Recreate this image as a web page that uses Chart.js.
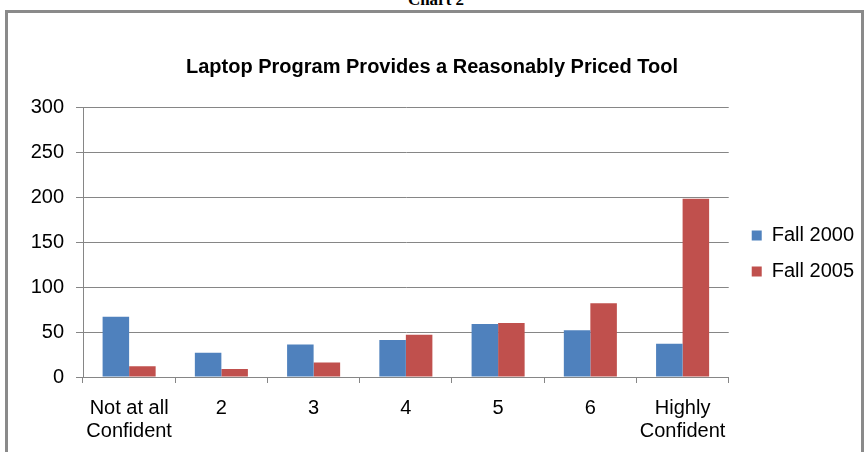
<!DOCTYPE html>
<html>
<head>
<meta charset="utf-8">
<script src="https://cdn.jsdelivr.net/npm/chart.js@4"></script>
<style>
	body { margin: 0; background: #fff; width: 866px; height: 452px; overflow: hidden; position: relative; }
	#caption { position: absolute; left: 0; width: 872px; top: -9px; text-align: center;
		font: bold 17px "Liberation Serif", serif; line-height: 17px; color: #000; }
	#frame { position: absolute; left: 5px; top: 10px; width: 853px; height: 460px;
		border: 3px solid #8a8a8a; }
	#chart { position: absolute; left: 0; top: 0; }
</style>
</head>
<body>
<div id="caption">Chart 2</div>
<div id="frame"></div>
<canvas id="chart" width="866" height="452"></canvas>
<script>
const categories = [['Not at all', 'Confident'], '2', '3', '4', '5', '6', ['Highly', 'Confident']];
const fall2000 = [67, 27, 36, 41, 59, 52, 37];
const fall2005 = [12, 9, 16, 47, 60, 82, 198];
const yTicks = [0, 50, 100, 150, 200, 250, 300];

const gridColor = '#868686';
const font = 'Liberation Sans, Arial, sans-serif';

new Chart(document.querySelector('#chart'), {
	type: 'bar',
	data: {
		labels: categories,
		datasets: [{
			label: 'Fall 2000',
			data: fall2000,
			backgroundColor: '#4F81BD',
		}, {
			label: 'Fall 2005',
			data: fall2005,
			backgroundColor: '#C0504D',
		}]
	},
	options: {
		responsive: false,
		animation: false,
		devicePixelRatio: 1,
		categoryPercentage: 0.575,
		barPercentage: 1,
		layout: {
			padding: { top: 55, left: 0, right: 2, bottom: 0 },
		},
		plugins: {
			title: {
				display: true,
				text: 'Laptop Program Provides a Reasonably Priced Tool',
				color: '#000',
				font: { family: font, size: 20, weight: 'bold', lineHeight: 1.2 },
				padding: { top: 0, bottom: 28 },
			},
			legend: {
				position: 'right',
				align: 'center',
				labels: {
					color: '#000',
					font: { family: font, size: 20, lineHeight: 1 },
					boxWidth: 10,
					boxHeight: 10,
					padding: 16,
				},
			},
			tooltip: { enabled: false },
		},
		scales: {
			x: {
				grid: {
					display: true,
					drawOnChartArea: false,
					drawTicks: true,
					tickLength: 6,
					color: gridColor,
				},
				border: { color: gridColor },
				ticks: {
					color: '#000',
					font: { family: font, size: 20, lineHeight: 1.15 },
					padding: 14,
					maxRotation: 0,
					autoSkip: false,
				},
				afterFit: scale => { scale.height = 75; },
			},
			y: {
				min: 0,
				max: 300,
				afterBuildTicks: scale => { scale.ticks = yTicks.map(value => ({ value })); },
				grid: {
					color: gridColor,
					tickLength: 7,
				},
				border: { color: gridColor },
				ticks: {
					color: '#000',
					font: { family: font, size: 20 },
					padding: 12,
				},
				afterFit: scale => { scale.width = 83; },
			},
			// spacer between plot area and legend
			gap: {
				type: 'linear',
				position: 'right',
				display: true,
				grid: { display: false },
				border: { display: false },
				ticks: { display: false },
				afterFit: scale => { scale.width = 7; },
			},
		},
	},
});
</script>
</body>
</html>
